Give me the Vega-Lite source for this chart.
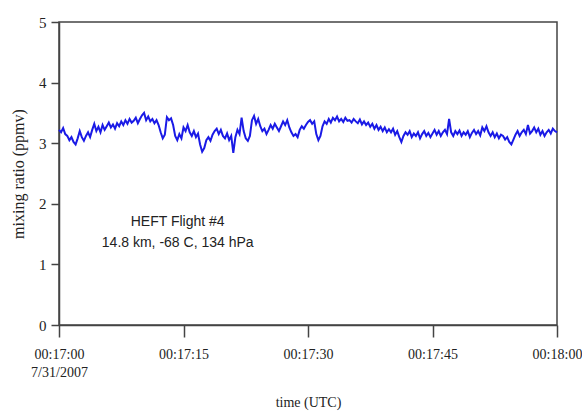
{
  "$schema": "https://vega.github.io/schema/vega-lite/v6.json",
  "autosize": {"type": "none"},
  "width": 498,
  "height": 303,
  "padding": {"left": 59, "top": 22, "right": 25, "bottom": 87},
  "background": "white",
  "config": {
    "view": {"stroke": "#444", "strokeWidth": 1.5},
    "axis": {"grid": false, "domainColor": "#444", "domainWidth": 1.5, "tickColor": "#444", "tickWidth": 1.5,
             "labelFont": "Liberation Serif", "labelFontSize": 15, "labelColor": "#222",
             "titleFont": "Liberation Serif", "titleFontSize": 14, "titleFontWeight": "normal", "titleColor": "#222"}
  },
  "layer": [
    {
      "data": {"values": [
        {"t":0,"v":3.22},{"t":0.25,"v":3.18},{"t":0.5,"v":3.25},{"t":0.75,"v":3.15},
        {"t":1,"v":3.12},{"t":1.25,"v":3.05},{"t":1.5,"v":3.10},{"t":1.75,"v":3.02},
        {"t":2,"v":2.98},{"t":2.25,"v":3.08},{"t":2.5,"v":3.20},{"t":2.75,"v":3.10},
        {"t":3,"v":3.04},{"t":3.25,"v":3.12},{"t":3.5,"v":3.18},{"t":3.75,"v":3.10},
        {"t":4,"v":3.22},{"t":4.25,"v":3.32},{"t":4.5,"v":3.20},{"t":4.75,"v":3.27},
        {"t":5,"v":3.18},{"t":5.25,"v":3.30},{"t":5.5,"v":3.22},{"t":5.75,"v":3.28},
        {"t":6,"v":3.34},{"t":6.25,"v":3.26},{"t":6.5,"v":3.31},{"t":6.75,"v":3.24},
        {"t":7,"v":3.33},{"t":7.25,"v":3.28},{"t":7.5,"v":3.36},{"t":7.75,"v":3.30},
        {"t":8,"v":3.38},{"t":8.25,"v":3.32},{"t":8.5,"v":3.40},{"t":8.75,"v":3.34},
        {"t":9,"v":3.37},{"t":9.25,"v":3.42},{"t":9.5,"v":3.33},{"t":9.75,"v":3.40},
        {"t":10,"v":3.46},{"t":10.25,"v":3.50},{"t":10.5,"v":3.38},{"t":10.75,"v":3.44},
        {"t":11,"v":3.36},{"t":11.25,"v":3.40},{"t":11.5,"v":3.33},{"t":11.75,"v":3.38},
        {"t":12,"v":3.30},{"t":12.25,"v":3.18},{"t":12.5,"v":3.08},{"t":12.75,"v":3.14},
        {"t":13,"v":3.43},{"t":13.25,"v":3.38},{"t":13.5,"v":3.41},{"t":13.75,"v":3.30},
        {"t":14,"v":3.12},{"t":14.25,"v":3.05},{"t":14.5,"v":3.15},{"t":14.75,"v":3.08},
        {"t":15,"v":3.26},{"t":15.25,"v":3.20},{"t":15.5,"v":3.30},{"t":15.75,"v":3.18},
        {"t":16,"v":3.12},{"t":16.25,"v":3.20},{"t":16.5,"v":3.10},{"t":16.75,"v":3.16},
        {"t":17,"v":2.98},{"t":17.25,"v":2.86},{"t":17.5,"v":2.92},{"t":17.75,"v":3.05},
        {"t":18,"v":3.10},{"t":18.25,"v":3.04},{"t":18.5,"v":3.14},{"t":18.75,"v":3.20},
        {"t":19,"v":3.24},{"t":19.25,"v":3.15},{"t":19.5,"v":3.22},{"t":19.75,"v":3.12},
        {"t":20,"v":3.08},{"t":20.25,"v":3.16},{"t":20.5,"v":3.05},{"t":20.75,"v":3.12},
        {"t":21,"v":2.84},{"t":21.25,"v":3.10},{"t":21.5,"v":3.22},{"t":21.75,"v":3.15},
        {"t":22,"v":3.42},{"t":22.25,"v":3.20},{"t":22.5,"v":3.08},{"t":22.75,"v":3.04},
        {"t":23,"v":3.12},{"t":23.25,"v":3.38},{"t":23.5,"v":3.45},{"t":23.75,"v":3.32},
        {"t":24,"v":3.40},{"t":24.25,"v":3.28},{"t":24.5,"v":3.20},{"t":24.75,"v":3.24},
        {"t":25,"v":3.15},{"t":25.25,"v":3.22},{"t":25.5,"v":3.30},{"t":25.75,"v":3.24},
        {"t":26,"v":3.32},{"t":26.25,"v":3.26},{"t":26.5,"v":3.20},{"t":26.75,"v":3.28},
        {"t":27,"v":3.36},{"t":27.25,"v":3.30},{"t":27.5,"v":3.38},{"t":27.75,"v":3.26},
        {"t":28,"v":3.18},{"t":28.25,"v":3.12},{"t":28.5,"v":3.15},{"t":28.75,"v":3.10},
        {"t":29,"v":3.22},{"t":29.25,"v":3.28},{"t":29.5,"v":3.24},{"t":29.75,"v":3.30},
        {"t":30,"v":3.35},{"t":30.25,"v":3.38},{"t":30.5,"v":3.32},{"t":30.75,"v":3.36},
        {"t":31,"v":3.15},{"t":31.25,"v":3.05},{"t":31.5,"v":3.12},{"t":31.75,"v":3.28},
        {"t":32,"v":3.36},{"t":32.25,"v":3.32},{"t":32.5,"v":3.40},{"t":32.75,"v":3.34},
        {"t":33,"v":3.42},{"t":33.25,"v":3.38},{"t":33.5,"v":3.44},{"t":33.75,"v":3.36},
        {"t":34,"v":3.40},{"t":34.25,"v":3.35},{"t":34.5,"v":3.42},{"t":34.75,"v":3.37},
        {"t":35,"v":3.38},{"t":35.25,"v":3.34},{"t":35.5,"v":3.40},{"t":35.75,"v":3.36},
        {"t":36,"v":3.33},{"t":36.25,"v":3.39},{"t":36.5,"v":3.31},{"t":36.75,"v":3.36},
        {"t":37,"v":3.30},{"t":37.25,"v":3.34},{"t":37.5,"v":3.27},{"t":37.75,"v":3.32},
        {"t":38,"v":3.24},{"t":38.25,"v":3.30},{"t":38.5,"v":3.22},{"t":38.75,"v":3.27},
        {"t":39,"v":3.20},{"t":39.25,"v":3.26},{"t":39.5,"v":3.18},{"t":39.75,"v":3.23},
        {"t":40,"v":3.18},{"t":40.25,"v":3.24},{"t":40.5,"v":3.14},{"t":40.75,"v":3.20},
        {"t":41,"v":3.10},{"t":41.25,"v":3.02},{"t":41.5,"v":3.12},{"t":41.75,"v":3.18},
        {"t":42,"v":3.14},{"t":42.25,"v":3.20},{"t":42.5,"v":3.10},{"t":42.75,"v":3.16},
        {"t":43,"v":3.12},{"t":43.25,"v":3.18},{"t":43.5,"v":3.08},{"t":43.75,"v":3.15},
        {"t":44,"v":3.20},{"t":44.25,"v":3.12},{"t":44.5,"v":3.17},{"t":44.75,"v":3.10},
        {"t":45,"v":3.16},{"t":45.25,"v":3.22},{"t":45.5,"v":3.14},{"t":45.75,"v":3.20},
        {"t":46,"v":3.12},{"t":46.25,"v":3.18},{"t":46.5,"v":3.22},{"t":46.75,"v":3.15},
        {"t":47,"v":3.40},{"t":47.25,"v":3.18},{"t":47.5,"v":3.12},{"t":47.75,"v":3.20},
        {"t":48,"v":3.15},{"t":48.25,"v":3.21},{"t":48.5,"v":3.12},{"t":48.75,"v":3.18},
        {"t":49,"v":3.14},{"t":49.25,"v":3.20},{"t":49.5,"v":3.10},{"t":49.75,"v":3.17},
        {"t":50,"v":3.22},{"t":50.25,"v":3.15},{"t":50.5,"v":3.20},{"t":50.75,"v":3.13},
        {"t":51,"v":3.26},{"t":51.25,"v":3.20},{"t":51.5,"v":3.28},{"t":51.75,"v":3.18},
        {"t":52,"v":3.12},{"t":52.25,"v":3.18},{"t":52.5,"v":3.10},{"t":52.75,"v":3.16},
        {"t":53,"v":3.08},{"t":53.25,"v":3.14},{"t":53.5,"v":3.12},{"t":53.75,"v":3.06},
        {"t":54,"v":3.10},{"t":54.25,"v":3.02},{"t":54.5,"v":2.98},{"t":54.75,"v":3.06},
        {"t":55,"v":3.14},{"t":55.25,"v":3.20},{"t":55.5,"v":3.12},{"t":55.75,"v":3.18},
        {"t":56,"v":3.22},{"t":56.25,"v":3.15},{"t":56.5,"v":3.30},{"t":56.75,"v":3.16},
        {"t":57,"v":3.20},{"t":57.25,"v":3.26},{"t":57.5,"v":3.18},{"t":57.75,"v":3.24},
        {"t":58,"v":3.14},{"t":58.25,"v":3.20},{"t":58.5,"v":3.12},{"t":58.75,"v":3.18},
        {"t":59,"v":3.22},{"t":59.25,"v":3.16},{"t":59.5,"v":3.24},{"t":59.75,"v":3.20},
        {"t":60,"v":3.18}
      ]},
      "mark": {"type": "line", "color": "#1a1ae6", "strokeWidth": 2, "interpolate": "linear"},
      "encoding": {
        "x": {"field": "t", "type": "quantitative",
              "scale": {"domain": [0, 60], "nice": false, "zero": false},
              "axis": {"values": [0, 15, 30, 45, 60], "tickSize": 12, "labelPadding": 10, "labelFlush": false,
                       "labelFontSize": 14, "labelLineHeight": 18, "labelBaseline": "top",
                       "labelExpr": "datum.value == 0 ? ['00:17:00', '7/31/2007'] : datum.value == 15 ? '00:17:15' : datum.value == 30 ? '00:17:30' : datum.value == 45 ? '00:17:45' : '00:18:00'",
                       "title": "time (UTC)", "titlePadding": 16}},
        "y": {"field": "v", "type": "quantitative",
              "scale": {"domain": [0, 5], "nice": false},
              "axis": {"values": [0, 1, 2, 3, 4, 5], "format": "d", "tickSize": 8, "labelPadding": 5, "labelFlush": false,
                       "title": "mixing ratio (ppmv)", "titleFontSize": 16, "titlePadding": 12}}
      }
    },
    {
      "data": {"values": [
        {"t": 14.3, "v": 1.70, "label": "HEFT Flight #4"},
        {"t": 14.3, "v": 1.36, "label": "14.8 km, -68 C, 134 hPa"}
      ]},
      "mark": {"type": "text", "font": "Liberation Sans", "fontSize": 14, "color": "#222", "align": "center", "baseline": "middle"},
      "encoding": {
        "x": {"field": "t", "type": "quantitative"},
        "y": {"field": "v", "type": "quantitative"},
        "text": {"field": "label"}
      }
    }
  ]
}
